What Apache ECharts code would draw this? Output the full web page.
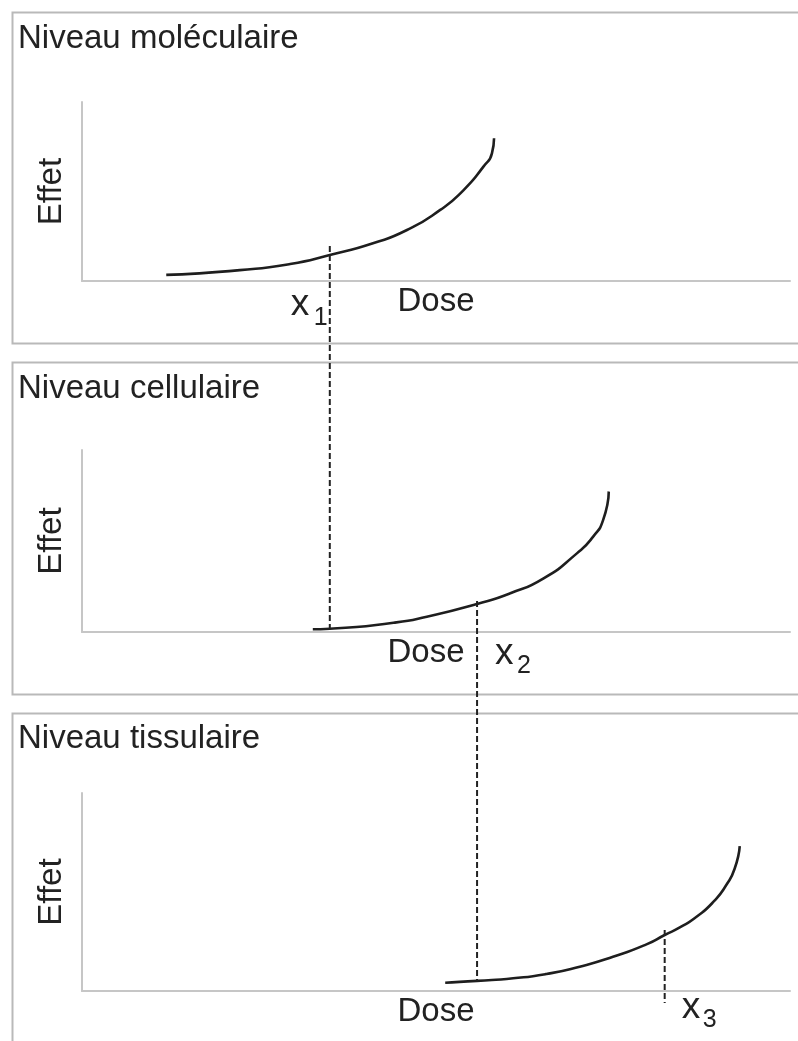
<!DOCTYPE html>
<html><head><meta charset="utf-8">
<script src="https://cdn.jsdelivr.net/npm/echarts@6/dist/echarts.min.js"></script>
<style>html,body{margin:0;padding:0;background:#fff}#c{width:798px;height:1041px}</style>
</head><body><div id="c"></div>
<script>
// ---- data ----
const panelTitles = ['Niveau moléculaire', 'Niveau cellulaire', 'Niveau tissulaire'];
const yAxisName = 'Effet';
const xAxisName = 'Dose';
const thresholdMain = 'x';
const thresholdSubs = ['1', '2', '3'];
const thresholdDose = [35.0, 55.8, 82.3];

const molecularDose   = [11.9, 22.3, 29.4, 35.0, 41.1, 45.9, 50.6, 53.9, 56.7, 57.9, 58.2];
const molecularEffect = [3.4, 6.1, 9.5, 14.5, 21.1, 28.5, 39.7, 50.8, 63.9, 71.3, 79.7];
const cellularDose    = [32.6, 35.0, 44.0, 48.7, 55.8, 60.5, 65.2, 69.9, 72.2, 73.6, 74.4];
const cellularEffect  = [1.5, 1.8, 5.1, 8.4, 15.4, 21.3, 29.5, 43.2, 52.4, 61.5, 77.1];
const tissueDose      = [51.3, 55.8, 60.9, 65.6, 70.3, 75.0, 79.8, 82.3, 84.5, 86.8, 89.2, 91.0, 92.2, 92.9];
const tissueEffect    = [4.2, 5.1, 6.4, 8.6, 12.3, 17.3, 23.7, 28.3, 32.2, 37.5, 45.1, 53.5, 62.0, 73.2];

const doseRange = [0, 100];
const effectRange = [0, 100];

// ---- layout / style ----
const FONT = '"Liberation Sans", Arial, Helvetica, sans-serif';
const TEXT = '#222';
const AXIS = '#c6c6c6';
const FRAME = '#b9b9b9';
const grids = [
  { left: 82, right: 8, top: 102, bottom: 760 },
  { left: 82, right: 8, top: 450, bottom: 409 },
  { left: 82, right: 8, top: 793, bottom: 50 }
];
const frames = [
  { x: 12.5, y: 12.5, w: 820, h: 331 },
  { x: 12.5, y: 362.5, w: 820, h: 332 },
  { x: 12.5, y: 713.5, w: 820, h: 360 }
];
const titleTops = [22, 372, 722];
const doseNamePad = [[0,0,0,0],[0,20,0,0],[0,0,0,0]];
// label placement relative to dashed line x / axis y
const labelLayout = [
  { dx: -39, dy: 5, subDx: 23, subDy: 25 },
  { dx: 18, dy: 3, subDx: 22, subDy: 22 },
  { dx: 17, dy: -2, subDx: 21, subDy: 17 }
];

const curves = [
  molecularDose.map((d, i) => [d, molecularEffect[i]]),
  cellularDose.map((d, i) => [d, cellularEffect[i]]),
  tissueDose.map((d, i) => [d, tissueEffect[i]])
];

const chart = echarts.init(document.getElementById('c'), null, { renderer: 'canvas' });

const option = {
  backgroundColor: '#fff',
  animation: false,
  title: panelTitles.map((t, i) => ({
    text: t, left: 18, top: titleTops[i], padding: 0,
    textStyle: { fontFamily: FONT, fontSize: 33, fontWeight: 'normal', color: TEXT }
  })),
  grid: grids,
  xAxis: grids.map((g, i) => ({
    type: 'value', gridIndex: i, min: doseRange[0], max: doseRange[1],
    name: xAxisName, nameLocation: 'middle', nameGap: 4,
    nameTextStyle: { fontFamily: FONT, fontSize: 33, color: TEXT, padding: doseNamePad[i] },
    axisLine: { show: true, onZero: false, lineStyle: { color: AXIS, width: 2 } },
    axisTick: { show: false }, axisLabel: { show: false }, splitLine: { show: false }
  })),
  yAxis: grids.map((g, i) => ({
    type: 'value', gridIndex: i, min: effectRange[0], max: effectRange[1],
    name: yAxisName, nameLocation: 'middle', nameGap: 14, nameRotate: 90,
    nameTextStyle: { fontFamily: FONT, fontSize: 33, color: TEXT },
    axisLine: { show: true, onZero: false, lineStyle: { color: AXIS, width: 2 } },
    axisTick: { show: false }, axisLabel: { show: false }, splitLine: { show: false }
  })),
  series: curves.map((c, i) => ({
    type: 'line', xAxisIndex: i, yAxisIndex: i, data: c,
    showSymbol: false, smooth: 0.6, clip: false,
    lineStyle: { color: '#1e1e1e', width: 2.6 }, z: 5
  }))
};
chart.setOption(option);

function effectAt(curve, dose) {
  const p = curve.find(pt => pt[0] === dose);
  return p ? p[1] : 0;
}

const graphics = [];
frames.forEach(f => graphics.push({
  type: 'rect', z: 1, silent: true,
  shape: { x: f.x, y: f.y, width: f.w, height: f.h },
  style: { fill: 'none', stroke: FRAME, lineWidth: 2 }
}));

const dashStyle = { stroke: '#222', lineWidth: 2, lineDash: [6, 3], fill: 'none' };
thresholdDose.forEach((d, i) => {
  const top = chart.convertToPixel({ gridIndex: i }, [d, effectAt(curves[i], d)]);
  const startOffset = [9, 3, 5][i];
  let endY;
  if (i + 1 < curves.length) {
    endY = chart.convertToPixel({ gridIndex: i + 1 }, [d, effectAt(curves[i + 1], d)])[1];
  } else {
    endY = chart.convertToPixel({ gridIndex: i }, [d, effectRange[0]])[1] + 12;
  }
  graphics.push({
    type: 'line', z: 10, silent: true,
    shape: { x1: top[0], y1: top[1] - startOffset, x2: top[0], y2: endY },
    style: dashStyle
  });
  const axisY = chart.convertToPixel({ gridIndex: i }, [d, effectRange[0]])[1];
  const L = labelLayout[i];
  graphics.push({
    type: 'text', z: 10, silent: true,
    style: { x: top[0] + L.dx, y: axisY + L.dy, text: thresholdMain,
      font: '37px ' + FONT, fill: TEXT, textAlign: 'left', textVerticalAlign: 'top' }
  });
  graphics.push({
    type: 'text', z: 10, silent: true,
    style: { x: top[0] + L.dx + L.subDx, y: axisY + L.subDy, text: thresholdSubs[i],
      font: '25px ' + FONT, fill: TEXT, textAlign: 'left', textVerticalAlign: 'top' }
  });
});
chart.setOption({ graphic: graphics });
</script></body></html>
